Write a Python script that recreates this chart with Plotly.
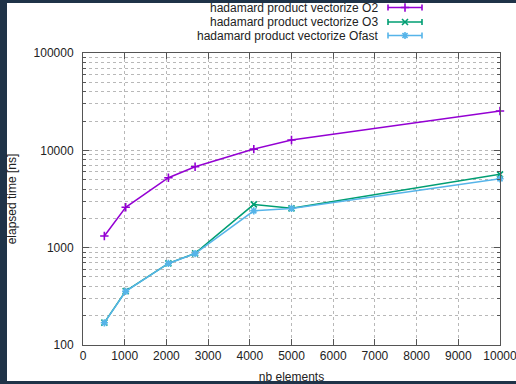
import plotly.graph_objects as go

# Benchmark data: element count vs elapsed time (ns)
nb_elements = [512, 1024, 2048, 2688, 4096, 5000, 10000]
time_o2 = [1320, 2600, 5230, 6790, 10300, 12770, 25400]
time_o3 = [170, 358, 690, 873, 2785, 2535, 5665]
time_ofast = [169, 356, 688, 870, 2393, 2530, 5100]

series_names = [
    "hadamard product vectorize O2",
    "hadamard product vectorize O3",
    "hadamard product vectorize Ofast",
]
series_colors = ["#9400d3", "#009e73", "#56b4e9"]
series_symbols = ["cross-thin", "x-thin", "asterisk"]
series_values = [time_o2, time_o3, time_ofast]

x_ticks = list(range(0, 10001, 1000))
y_ticks = [100, 1000, 10000, 100000]

W, H = 516, 384
FONT = "Liberation Sans, Arial, sans-serif"

fig = go.Figure()

for name, vals, col, sym in zip(series_names, series_values, series_colors, series_symbols):
    fig.add_trace(go.Scatter(
        x=nb_elements, y=vals, mode="lines+markers", name=name,
        line=dict(color=col, width=1.5),
        marker=dict(symbol=sym, size=6, color=col, line=dict(color=col, width=1.6)),
        xaxis="x", yaxis="y", showlegend=False, cliponaxis=False,
    ))

# Key drawn in pixel space on a full-figure helper axis
key_rows = [7.5, 22, 35.5]
for name, col, sym, yy in zip(series_names, series_colors, series_symbols, key_rows):
    fig.add_trace(go.Scatter(
        x=[405], y=[yy], mode="markers", xaxis="x2", yaxis="y2", showlegend=False,
        marker=dict(symbol=sym, size=6, color=col, line=dict(color=col, width=1.6)),
        error_x=dict(type="constant", value=17, color=col, thickness=1.6, width=3),
        hoverinfo="skip",
    ))
    fig.add_annotation(
        x=380, y=yy, xref="x2", yref="y2", text=name, showarrow=False,
        xanchor="right", yanchor="middle",
        font=dict(family=FONT, size=12, color="#222222"),
    )

x0, x1 = 83 / W, 500 / W
y0, y1 = 1 - 345 / H, 1 - 53 / H

grid_col = "#b8b8b8"
axis_col = "#555555"

fig.update_layout(
    width=W, height=H,
    margin=dict(l=0, r=0, t=0, b=0, pad=0, autoexpand=False),
    paper_bgcolor="#1f3348",
    plot_bgcolor="rgba(0,0,0,0)",
    font=dict(family=FONT, size=12, color="#222222"),
    showlegend=False,
    xaxis=dict(
        domain=[x0, x1], range=[0, 10000], tickvals=x_ticks,
        ticktext=[str(v) for v in x_ticks], automargin=False,
        ticklabeloverflow="allow",
        showgrid=True, gridcolor=grid_col, griddash="dot", gridwidth=1,
        showline=True, linecolor=axis_col, linewidth=1, mirror="allticks",
        ticks="inside", ticklen=6, tickcolor=axis_col, zeroline=False,
        anchor="y",
        title=dict(text="nb elements", font=dict(size=12), standoff=12),
    ),
    yaxis=dict(
        domain=[y0, y1], type="log", range=[2, 5], tickvals=y_ticks,
        ticktext=[str(v) for v in y_ticks], automargin=False,
        ticklabeloverflow="allow",
        showgrid=True, gridcolor=grid_col, griddash="dot", gridwidth=1,
        showline=True, linecolor=axis_col, linewidth=1, mirror="allticks",
        ticks="inside", ticklen=6, tickcolor=axis_col, zeroline=False,
        minor=dict(dtick="D1", ticks="inside", ticklen=3, tickcolor=axis_col,
                   showgrid=True, gridcolor=grid_col, griddash="dot", gridwidth=1),
        anchor="x", ticklabelstandoff=6,
        title=dict(text="elapsed time [ns]", font=dict(size=12), standoff=14),
    ),
    xaxis2=dict(domain=[0, 1], range=[0, W], visible=False, anchor="y2",
                fixedrange=True, automargin=False),
    yaxis2=dict(domain=[0, 1], range=[H, 0], visible=False, anchor="x2",
                fixedrange=True, automargin=False),
    shapes=[dict(type="rect", xref="paper", yref="paper",
                 x0=7 / W, x1=1, y0=1 - 381 / H, y1=1 - 3 / H,
                 fillcolor="white", line=dict(width=0), layer="below")],
)

fig.write_html("out.html")
